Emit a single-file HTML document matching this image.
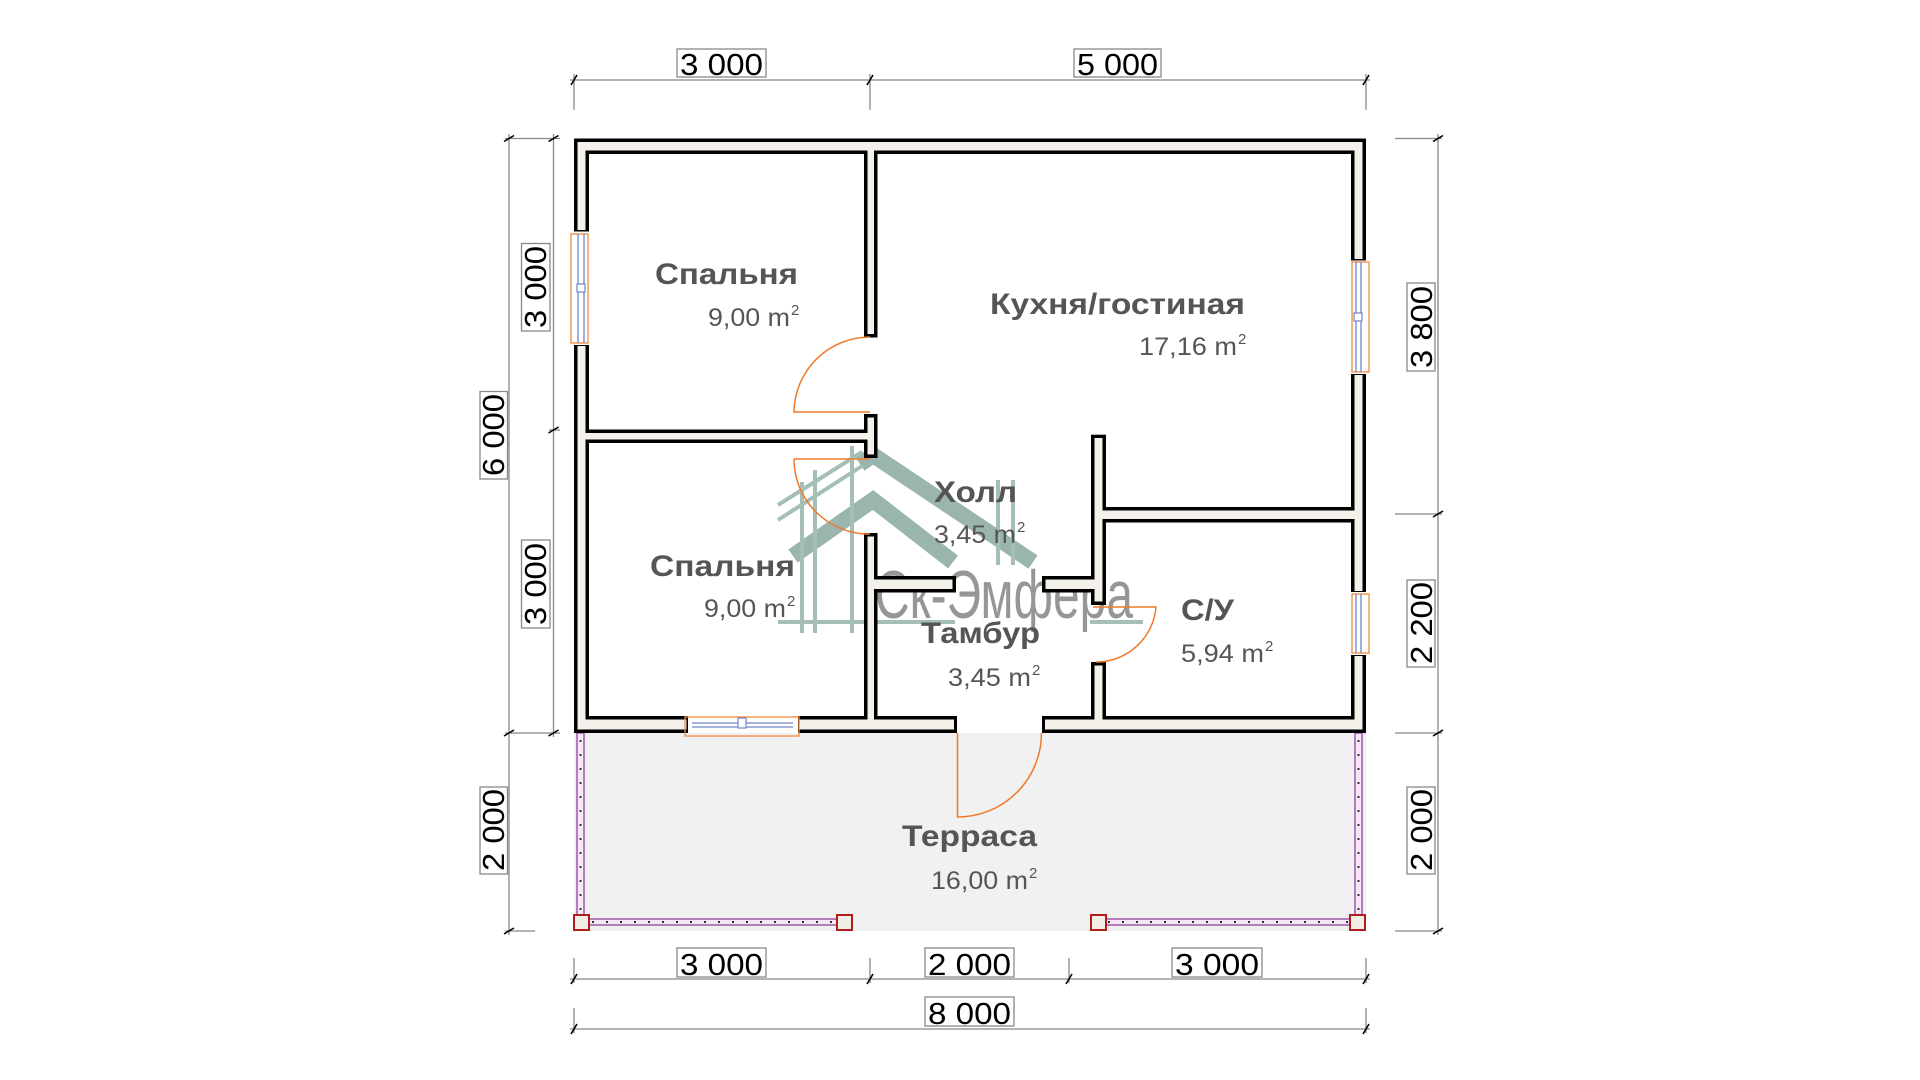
<!DOCTYPE html>
<html><head><meta charset="utf-8"><style>
html,body{margin:0;padding:0;background:#fff;width:1920px;height:1080px;overflow:hidden}
svg{display:block}
.dim{font-family:"Liberation Sans",sans-serif;font-size:31px;fill:#000}
.lbl{font-family:"Liberation Sans",sans-serif;font-weight:bold;font-size:30px;fill:#555}
.ar{font-family:"Liberation Sans",sans-serif;font-size:25px;fill:#555}
.sup{font-size:15px}
</style></head><body>
<svg width="1920" height="1080" viewBox="0 0 1920 1080" xmlns="http://www.w3.org/2000/svg">
<rect x="574" y="733" width="792" height="198" fill="#f1f1f1"/>
<g fill="#f7e8f7" stroke="#9c5aa8" stroke-width="1.5">
<rect x="577" y="733" width="7" height="185"/>
<rect x="1355" y="733" width="7" height="185"/>
<rect x="588" y="919" width="250" height="6"/>
<rect x="1105" y="919" width="248" height="6"/>
</g>
<g stroke="#333" stroke-width="2" stroke-dasharray="2 12">
<line x1="580.5" y1="740" x2="580.5" y2="915"/>
<line x1="1358.5" y1="740" x2="1358.5" y2="915"/>
<line x1="592" y1="922" x2="838" y2="922"/>
<line x1="1108" y1="922" x2="1352" y2="922"/>
</g>
<g fill="#f1efe8" stroke="#b31c1c" stroke-width="2">
<rect x="574" y="915" width="15" height="15"/>
<rect x="837" y="915" width="15" height="15"/>
<rect x="1091" y="915" width="15" height="15"/>
<rect x="1350" y="915" width="15" height="15"/>
</g>

<g opacity="0.7">
<g stroke="#6f968c" stroke-width="16" fill="none" stroke-linecap="butt">
<polyline points="860,464 873,455 1033,562"/>
<polyline points="793,556 873,500 953,562"/>
</g>
<g stroke="#7fa59a" stroke-width="4" fill="none">
<line x1="802" y1="482" x2="802" y2="633"/><line x1="815" y1="470" x2="815" y2="633"/>
<line x1="852" y1="446" x2="852" y2="633"/>
<line x1="998" y1="480" x2="998" y2="565"/><line x1="1013" y1="480" x2="1013" y2="565"/>
<line x1="778" y1="505" x2="862" y2="452"/><line x1="778" y1="520" x2="862" y2="466"/>
<line x1="778" y1="622" x2="955" y2="622"/><line x1="1090" y1="622" x2="1143" y2="622"/>
</g>
<text x="875" y="618" font-family="Liberation Sans,sans-serif" font-size="68" fill="#6b6b6b" textLength="258" lengthAdjust="spacingAndGlyphs">Ск-Эмфера</text>
</g>

<g fill="#000">
<rect x="574" y="138.5" width="792" height="15.5"/>
<rect x="574" y="138.5" width="15" height="93"/>
<rect x="574" y="345" width="15" height="388"/>
<rect x="1351" y="138.5" width="15" height="122"/>
<rect x="1351" y="374" width="15" height="218"/>
<rect x="1351" y="655" width="15" height="78"/>
<rect x="574" y="716" width="114" height="17"/>
<rect x="798" y="716" width="159" height="17"/>
<rect x="1042" y="716" width="324" height="17"/>
<rect x="864" y="138.5" width="13.5" height="199"/>
<rect x="864" y="414" width="13.5" height="44"/>
<rect x="864" y="533" width="13.5" height="200"/>
<rect x="574" y="429.5" width="303" height="13.5"/>
<rect x="1091" y="434.7" width="15" height="170.3"/>
<rect x="1091" y="662" width="15" height="71"/>
<rect x="1091" y="507" width="275" height="15.5"/>
<rect x="864" y="576" width="92" height="16.5"/>
<rect x="1042" y="576" width="64" height="16.5"/>
</g>
<g fill="#f3f1ea">
<rect x="577.5" y="142" width="785" height="8.5"/>
<rect x="577.5" y="142" width="8" height="88"/>
<rect x="577.5" y="346" width="8" height="383.5"/>
<rect x="1354.5" y="142" width="8" height="117"/>
<rect x="1354.5" y="375" width="8" height="216"/>
<rect x="1354.5" y="656" width="8" height="73.5"/>
<rect x="577.5" y="719.5" width="109" height="10"/>
<rect x="799" y="719.5" width="155" height="10"/>
<rect x="1045" y="719.5" width="317.5" height="10"/>
<rect x="867.5" y="142" width="6.5" height="192"/>
<rect x="867.5" y="417.5" width="6.5" height="37"/>
<rect x="867.5" y="536.5" width="6.5" height="193"/>
<rect x="577.5" y="433" width="296.5" height="6.5"/>
<rect x="1094.5" y="438" width="8" height="163.5"/>
<rect x="1094.5" y="665.5" width="8" height="64"/>
<rect x="1094.5" y="510.5" width="268" height="8.5"/>
<rect x="867.5" y="579.5" width="85" height="9.5"/>
<rect x="1045.5" y="579.5" width="57" height="9.5"/>
</g>

<g fill="none" stroke-width="1.3">
<rect x="571" y="234" width="17" height="109" stroke="#f08a3c"/>
<line x1="578" y1="234" x2="578" y2="343" stroke="#6f86c8"/><line x1="584" y1="234" x2="584" y2="343" stroke="#6f86c8"/>
<rect x="1352" y="262" width="17" height="110" stroke="#f08a3c"/>
<line x1="1356" y1="262" x2="1356" y2="372" stroke="#6f86c8"/><line x1="1361" y1="262" x2="1361" y2="372" stroke="#6f86c8"/>
<rect x="1352" y="594" width="17" height="59" stroke="#f08a3c"/>
<line x1="1356" y1="594" x2="1356" y2="653" stroke="#6f86c8"/><line x1="1361" y1="594" x2="1361" y2="653" stroke="#6f86c8"/>
<rect x="685" y="717" width="114" height="19" stroke="#f08a3c"/>
<line x1="692" y1="723" x2="793" y2="723" stroke="#6f86c8"/><line x1="692" y1="727" x2="793" y2="727" stroke="#6f86c8"/>
</g>
<g fill="#fff" stroke="#6f86c8" stroke-width="1.2">
<rect x="577" y="284" width="8" height="8"/><rect x="1354" y="313" width="8" height="8"/>
<rect x="738" y="718" width="8" height="10"/>
</g>

<g fill="none" stroke="#f07a2a" stroke-width="1.5">
<path d="M870 337 A76 76 0 0 0 794 412 L870 412"/>
<path d="M794 459 L870 459 M794 459 A75 75 0 0 0 870 534"/>
<path d="M1093 607 L1156 607 A60 60 0 0 1 1096 662"/>
<path d="M957.5 733 L957.5 817 A84 84 0 0 0 1041.5 733"/>
</g>

<g stroke="#888" stroke-width="1.3" fill="none">
<line x1="570" y1="80" x2="1370" y2="80"/>
<line x1="574" y1="74" x2="574" y2="110"/><line x1="870" y1="74" x2="870" y2="110"/><line x1="1366" y1="74" x2="1366" y2="110"/>
<line x1="553.5" y1="134" x2="553.5" y2="737"/>
<line x1="509" y1="134" x2="509" y2="935"/>
<line x1="505" y1="138.5" x2="560" y2="138.5"/><line x1="549" y1="430" x2="560" y2="430"/>
<line x1="505" y1="733" x2="560" y2="733"/><line x1="505" y1="931" x2="535" y2="931"/>
<line x1="1438" y1="134" x2="1438" y2="935"/>
<line x1="1395" y1="138.5" x2="1442" y2="138.5"/><line x1="1395" y1="514" x2="1442" y2="514"/>
<line x1="1395" y1="733" x2="1442" y2="733"/><line x1="1395" y1="931" x2="1442" y2="931"/>
<line x1="570" y1="979" x2="1370" y2="979"/>
<line x1="574" y1="958" x2="574" y2="983"/><line x1="870" y1="958" x2="870" y2="983"/><line x1="1069" y1="958" x2="1069" y2="983"/><line x1="1366" y1="958" x2="1366" y2="983"/>
<line x1="570" y1="1029" x2="1370" y2="1029"/>
<line x1="574" y1="1008" x2="574" y2="1033"/><line x1="1366" y1="1008" x2="1366" y2="1033"/>
</g>
<g stroke="#000" stroke-width="1.6">
<path d="M571 85 L577 75 M867 85 L873 75 M1363 85 L1369 75"/>
<path d="M548.5 141.5 L558.5 135.5 M548.5 433 L558.5 427 M548.5 736 L558.5 730"/>
<path d="M504 141.5 L514 135.5 M504 736 L514 730 M504 934 L514 928"/>
<path d="M1433 141.5 L1443 135.5 M1433 517 L1443 511 M1433 736 L1443 730 M1433 934 L1443 928"/>
<path d="M571 984 L577 974 M867 984 L873 974 M1066 984 L1072 974 M1363 984 L1369 974"/>
<path d="M571 1034 L577 1024 M1363 1034 L1369 1024"/>
</g>
<g fill="#fff" stroke="#888" stroke-width="1.3">
<rect x="677" y="49" width="89" height="28"/><rect x="1074" y="49" width="87" height="28"/>
<rect x="677" y="948" width="89" height="29"/><rect x="925" y="948" width="89" height="29"/><rect x="1172" y="948" width="90" height="29"/>
<rect x="925" y="997" width="89" height="29"/>
<rect x="521.5" y="243.5" width="28.5" height="87.5"/><rect x="480" y="391.5" width="27.5" height="87.5"/>
<rect x="521.5" y="540" width="28.5" height="88"/><rect x="480" y="787" width="27.5" height="87"/>
<rect x="1407" y="283" width="28" height="88"/><rect x="1407" y="580" width="28" height="87"/><rect x="1407" y="787" width="28" height="87"/>
</g>
<g class="dim">
<text x="680" y="75" textLength="83" lengthAdjust="spacingAndGlyphs">3 000</text>
<text x="1077" y="75" textLength="81" lengthAdjust="spacingAndGlyphs">5 000</text>
<text x="680" y="975" textLength="83" lengthAdjust="spacingAndGlyphs">3 000</text>
<text x="928" y="975" textLength="83" lengthAdjust="spacingAndGlyphs">2 000</text>
<text x="1175" y="975" textLength="84" lengthAdjust="spacingAndGlyphs">3 000</text>
<text x="928" y="1024" textLength="83" lengthAdjust="spacingAndGlyphs">8 000</text>
</g>
<g class="dim" font-size="30">
<text transform="translate(546,328) rotate(-90)" textLength="82" lengthAdjust="spacingAndGlyphs">3 000</text>
<text transform="translate(504,476) rotate(-90)" textLength="82" lengthAdjust="spacingAndGlyphs">6 000</text>
<text transform="translate(546,625) rotate(-90)" textLength="82" lengthAdjust="spacingAndGlyphs">3 000</text>
<text transform="translate(504,871) rotate(-90)" textLength="82" lengthAdjust="spacingAndGlyphs">2 000</text>
<text transform="translate(1432,368) rotate(-90)" textLength="82" lengthAdjust="spacingAndGlyphs">3 800</text>
<text transform="translate(1432,664) rotate(-90)" textLength="82" lengthAdjust="spacingAndGlyphs">2 200</text>
<text transform="translate(1432,871) rotate(-90)" textLength="82" lengthAdjust="spacingAndGlyphs">2 000</text>
</g>

<text class="lbl" x="655" y="284" textLength="143" lengthAdjust="spacingAndGlyphs">Спальня</text>
<text class="ar" x="708" y="326" textLength="82" lengthAdjust="spacingAndGlyphs">9,00 m</text><text class="ar sup" x="791" y="315">2</text>
<text class="lbl" x="990" y="314" textLength="255" lengthAdjust="spacingAndGlyphs">Кухня/гостиная</text>
<text class="ar" x="1139" y="355" textLength="98" lengthAdjust="spacingAndGlyphs">17,16 m</text><text class="ar sup" x="1238" y="344">2</text>
<text class="lbl" x="934" y="502" textLength="83" lengthAdjust="spacingAndGlyphs">Холл</text>
<text class="ar" x="934" y="543" textLength="82" lengthAdjust="spacingAndGlyphs">3,45 m</text><text class="ar sup" x="1017" y="532">2</text>
<text class="lbl" x="650" y="576" textLength="145" lengthAdjust="spacingAndGlyphs">Спальня</text>
<text class="ar" x="704" y="617" textLength="82" lengthAdjust="spacingAndGlyphs">9,00 m</text><text class="ar sup" x="787" y="606">2</text>
<text class="lbl" x="921" y="643" textLength="119" lengthAdjust="spacingAndGlyphs">Тамбур</text>
<text class="ar" x="948" y="686" textLength="83" lengthAdjust="spacingAndGlyphs">3,45 m</text><text class="ar sup" x="1032" y="675">2</text>
<text class="lbl" x="1181" y="620" textLength="53" lengthAdjust="spacingAndGlyphs">С/У</text>
<text class="ar" x="1181" y="662" textLength="83" lengthAdjust="spacingAndGlyphs">5,94 m</text><text class="ar sup" x="1265" y="651">2</text>
<text class="lbl" x="902" y="846" textLength="135" lengthAdjust="spacingAndGlyphs">Терраса</text>
<text class="ar" x="931" y="889" textLength="97" lengthAdjust="spacingAndGlyphs">16,00 m</text><text class="ar sup" x="1029" y="878">2</text>
</svg>
</body></html>
